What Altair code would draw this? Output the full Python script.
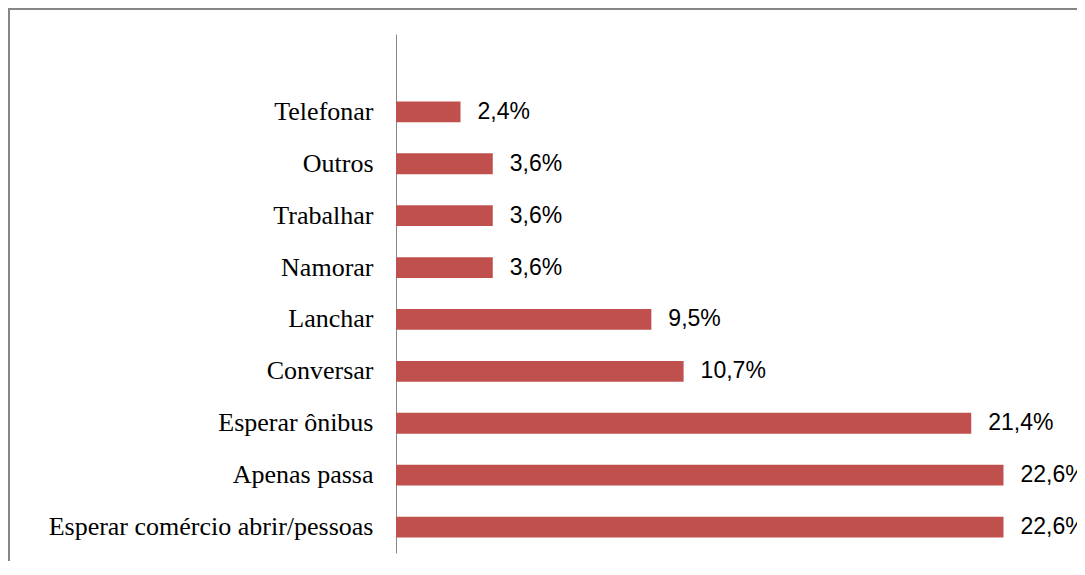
import altair as alt
import pandas as pd

categories = ["Telefonar", "Outros", "Trabalhar", "Namorar", "Lanchar", "Conversar",
              "Esperar ônibus ", "Apenas passa", "Esperar comércio abrir/pessoas"]
values = [2.4, 3.6, 3.6, 3.6, 9.5, 10.7, 21.4, 22.6, 22.6]
labels = ["2,4%", "3,6%", "3,6%", "3,6%", "9,5%", "10,7%", "21,4%", "22,6%", "22,6%"]

df = pd.DataFrame({"cat": categories, "val": values, "lab": labels})
domain = [" "] + categories

y_enc = alt.Y("cat:N", sort=domain,
              scale=alt.Scale(domain=domain, paddingInner=0.6, paddingOuter=0.3),
              axis=alt.Axis(title=None, ticks=False, domainColor="#868686", domainWidth=1,
                            labelFont="Liberation Serif", labelFontSize=26, labelColor="#000000",
                            labelPadding=23, labelLimit=400))
x_enc = alt.X("val:Q", scale=alt.Scale(domain=[0, 25], nice=False),
              axis=None)

bars = alt.Chart(df).mark_bar(color="#C0504D").encode(y=y_enc, x=x_enc)
text = alt.Chart(df).mark_text(align="left", baseline="middle", dx=17,
                               font="Liberation Sans", fontSize=23, color="#000000").encode(
    y=alt.Y("cat:N", sort=domain, scale=alt.Scale(domain=domain)), x="val:Q", text="lab:N")

frame_left = alt.Chart(df).mark_rule(color="#868686", strokeWidth=2).encode(
    x=alt.value(-387), y=alt.value(-25), y2=alt.value(560))
frame_top = alt.Chart(df).mark_rule(color="#868686", strokeWidth=2).encode(
    x=alt.value(-388), x2=alt.value(700), y=alt.value(-25))

chart = alt.layer(frame_left, frame_top, bars, text).properties(
    width=672, height=519,
    autosize=alt.AutoSizeParams(type="none"),
    padding={"left": 388, "top": 26, "right": 9, "bottom": 8},
).configure_view(stroke=None)

chart.save("out.html", embed_options={"renderer": "svg", "actions": False})
